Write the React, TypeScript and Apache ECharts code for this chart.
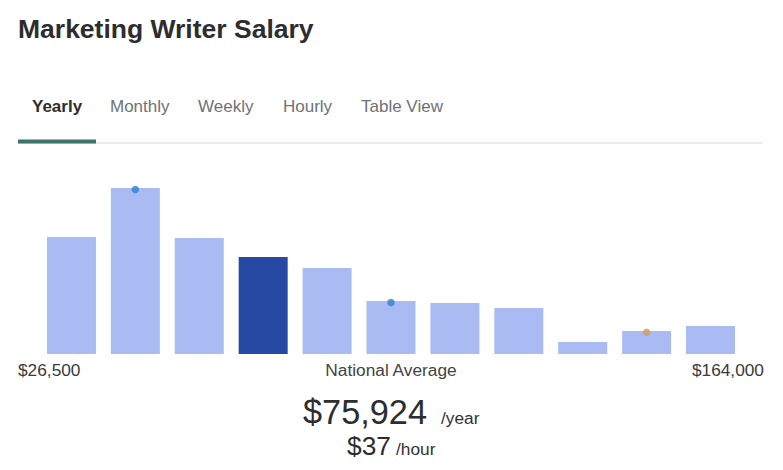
import React, { useEffect, useRef } from "react";
import * as echarts from "echarts";

const titleText = "Marketing Writer Salary";
const tabs = ["Yearly", "Monthly", "Weekly", "Hourly", "Table View"];
const tabX = [32, 110, 198, 283, 361];

const categories = [
  "$26,500", "$39,000", "$51,500", "$64,000", "$76,500", "$89,000",
  "$101,500", "$114,000", "$126,500", "$139,000", "$151,500",
];
const frequencies = [117, 166, 116, 97, 86, 53, 51, 46, 12, 23, 28];
const highlightIndex = 3;

const blueMarkers = [1, 5];
const orangeMarkers = [9];

const minLabel = "$26,500";
const midLabel = "National Average";
const maxLabel = "$164,000";
const yearlyValue = "$75,924";
const hourlyValue = "$37";

const FONT = "'Liberation Sans', Arial, sans-serif";

export default function App() {
  const ref = useRef<HTMLDivElement>(null);

  useEffect(() => {
    if (!ref.current) return;
    const chart = echarts.init(ref.current, null, { renderer: "svg" });

    const txt = (
      text: string,
      x: number,
      y: number,
      size: number,
      color: string,
      weight: string = "normal",
      align: string = "left"
    ) => ({
      type: "text",
      x,
      y,
      silent: true,
      style: {
        text,
        fill: color,
        font: `${weight} ${size}px ${FONT}`,
        textAlign: align,
        textVerticalAlign: "middle",
      },
    });

    const graphics: any[] = [
      txt(titleText, 18, 28.5, 26.5, "#2d2d2d", "bold"),
      ...tabs.map((t, i) =>
        txt(t, tabX[i], 106.5, 17, i === 0 ? "#2d2d2d" : "#6e7276", i === 0 ? "bold" : "normal")
      ),
      {
        type: "rect",
        shape: { x: 18, y: 142.5, width: 745, height: 1 },
        style: { fill: "#dadada" },
        silent: true,
      },
      {
        type: "rect",
        shape: { x: 18, y: 139.5, width: 78, height: 4 },
        style: { fill: "#3a7565" },
        silent: true,
      },
      txt(minLabel, 18, 370, 17.3, "#3a3a3a"),
      txt(midLabel, 391, 370, 17.3, "#444444", "normal", "center"),
      txt(maxLabel, 764, 370, 17.3, "#3a3a3a", "normal", "right"),
      txt(yearlyValue, 303, 412, 34.3, "#2d2d2d"),
      txt("/year", 441, 418, 17.3, "#333333"),
      txt(hourlyValue, 347, 446, 26.3, "#2d2d2d"),
      txt("/hour", 396, 449, 17.3, "#333333"),
    ];

    const markerData = (idx: number[]) => idx.map((i) => [i, frequencies[i]]);

    chart.setOption({
      animation: false,
      grid: { left: 39.5, right: 40.5, top: 188, bottom: 116, containLabel: false },
      xAxis: {
        type: "category",
        data: categories,
        axisLine: { show: false },
        axisTick: { show: false },
        axisLabel: { show: false },
        splitLine: { show: false },
      },
      yAxis: {
        type: "value",
        min: 0,
        max: 166,
        show: false,
        splitLine: { show: false },
      },
      series: [
        {
          type: "bar",
          barWidth: 49,
          data: frequencies.map((v, i) => ({
            value: v,
            itemStyle: { color: i === highlightIndex ? "#2849a3" : "#aabbf3" },
          })),
          z: 2,
        },
        {
          type: "scatter",
          data: markerData(blueMarkers),
          symbol: "circle",
          symbolSize: 7.5,
          symbolOffset: [0, 1.5],
          itemStyle: { color: "#2f83cc" },
          z: 5,
        },
        {
          type: "scatter",
          data: markerData(orangeMarkers),
          symbol: "circle",
          symbolSize: 7.5,
          symbolOffset: [0, 1.3],
          itemStyle: { color: "#d49a5c" },
          z: 5,
        },
      ],
      graphic: graphics,
    });

    return () => chart.dispose();
  }, []);

  return (
    <div
      ref={ref}
      style={{ position: "fixed", left: 0, top: 0, width: 783, height: 470, background: "#ffffff" }}
    />
  );
}
